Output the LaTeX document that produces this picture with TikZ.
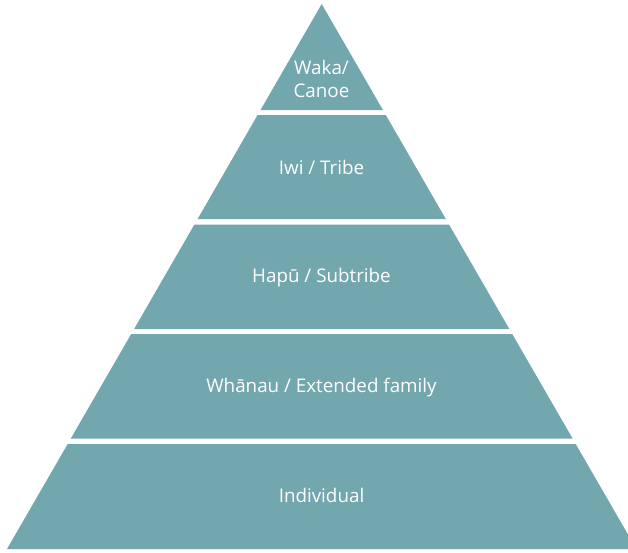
\documentclass[tikz,border=0pt]{standalone}
\usepackage{fontspec}
\setmainfont{Open Sans}
\definecolor{pyrfill}{HTML}{72A7AE}
\begin{document}
\begin{tikzpicture}[x=1pt,y=-1pt,
  band/.style={fill=pyrfill,draw=none},
  lbl/.style={text=white,font=\fontsize{18.8}{23}\selectfont,anchor=base,inner sep=0pt}]
\useasboundingbox (0,0) rectangle (628,552);
\clip (0,0) rectangle (628,552);
\fill[band] (321.7,4) -- (382.9,110) -- (260.5,110) -- cycle;
\fill[band] (257.6,115) -- (385.8,115) -- (445.8,219) -- (197.6,219) -- cycle;
\fill[band] (194.4,224.5) -- (449.0,224.5) -- (509.3,329) -- (134.1,329) -- cycle;
\fill[band] (131.2,334) -- (512.2,334) -- (572.6,438.5) -- (70.8,438.5) -- cycle;
\fill[band] (67.7,444) -- (575.7,444) -- (636.4,549) -- (7.0,549) -- cycle;
\node[lbl] (waka) at (321.5,74) {Waka/};
\node[lbl] (canoe) at (321.5,97) {Canoe};
\node[lbl] (iwi) at (321.5,174) {Iwi / Tribe};
\node[lbl] (hapu) at (321.5,282) {Hapū / Subtribe};
\node[lbl] (whanau) at (321.5,392) {Whānau / Extended family};
\node[lbl] (indiv) at (321.5,502) {Individual};
\end{tikzpicture}
\end{document}
